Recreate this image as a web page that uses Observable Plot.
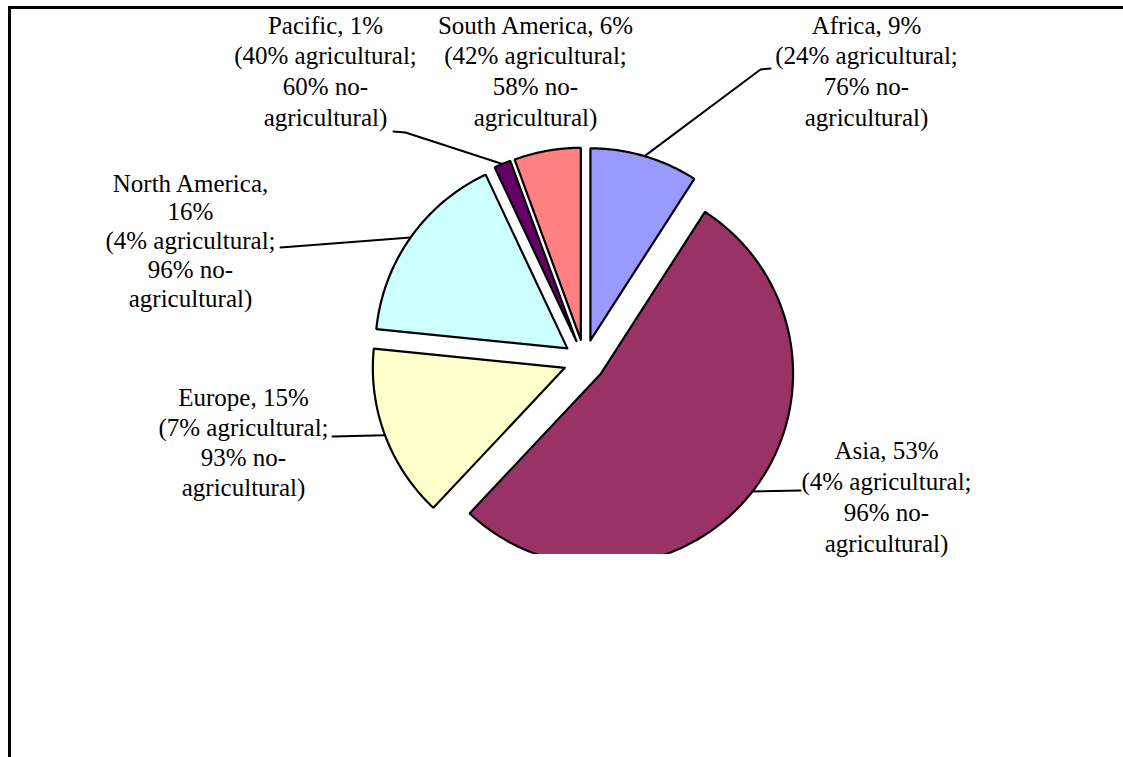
<!DOCTYPE html>
<html>
<head>
<meta charset="utf-8">
<script src="https://cdn.jsdelivr.net/npm/d3@7"></script>
<script src="https://cdn.jsdelivr.net/npm/@observablehq/plot@0.6"></script>
<style>
  html, body { margin: 0; padding: 0; background: #ffffff; }
  #chart svg { display: block; }
  #chart svg text { font-family: "Liberation Serif", "Times New Roman", serif; }
</style>
</head>
<body>
<div id="chart"></div>
<script>
// ---- Data ----
const regions = ["Africa", "Asia", "Europe", "North America", "Pacific", "South America"];
const shares = [9.1, 52.9, 14.6, 16.4, 1.4, 5.6];           // slice sizes
const shareLabels = ["9%", "53%", "15%", "16%", "1%", "6%"];
const agricultural = ["24%", "4%", "7%", "4%", "40%", "42%"];
const nonAgricultural = ["76%", "96%", "93%", "96%", "60%", "58%"];
const colors = ["#9999FF", "#993366", "#FFFFCC", "#CCFFFF", "#660066", "#FF8080"];

// ---- Layout (pixel space of the picture) ----
const W = 1123, H = 757, clipBottom = 554;
const cx = 584, cy = 360, R = 192, explode = 21;
const labelLayout = {
  "Africa":        {x: 866, y: 25,  step: 30.7, breakName: false, lead: [[770, 68], [760, 69]]},
  "Asia":          {x: 886, y: 450, step: 31,   breakName: false, lead: [[800, 490]]},
  "Europe":        {x: 243, y: 397, step: 30,   breakName: false, lead: [[332, 436]]},
  "North America": {x: 190, y: 183, step: 28.8, breakName: true,  lead: [[280, 247]]},
  "Pacific":       {x: 325, y: 25,  step: 30.7, breakName: false, lead: [[393, 131], [405, 132]]},
  "South America": {x: 535, y: 25,  step: 30.7, breakName: false, lead: null}
};

const arcs = d3.pie().sort(null).value(d => d)(shares);

const slices = arcs.map((a, i) => {
  const mid = (a.startAngle + a.endAngle) / 2;
  const ox = cx + explode * Math.sin(mid), oy = cy - explode * Math.cos(mid);
  const pts = [{x: ox, y: oy}];
  const n = Math.max(2, Math.ceil((a.endAngle - a.startAngle) / 0.01));
  for (let k = 0; k <= n; k++) {
    const t = a.startAngle + (a.endAngle - a.startAngle) * k / n;
    pts.push({x: ox + R * Math.sin(t), y: oy - R * Math.cos(t)});
  }
  pts.push({x: ox, y: oy});
  const outer = {x: ox + R * Math.sin(mid), y: oy - R * Math.cos(mid)};
  return {region: regions[i], color: colors[i], pts, outer};
});

// one text element per label line
const labelLines = [];
regions.forEach((r, i) => {
  const L = labelLayout[r];
  const lines = (L.breakName ? [`${r},`, shareLabels[i]] : [`${r}, ${shareLabels[i]}`])
    .concat([`(${agricultural[i]} agricultural;`, `${nonAgricultural[i]} no-`, `agricultural)`]);
  lines.forEach((t, k) => labelLines.push({region: r, x: L.x, y: L.y + k * L.step, text: t}));
});

const leaders = [];
slices.forEach(s => {
  const L = labelLayout[s.region];
  if (!L.lead) return;
  L.lead.forEach(p => leaders.push({region: s.region, x: p[0], y: p[1]}));
  leaders.push({region: s.region, x: s.outer.x, y: s.outer.y});
});

const chart = Plot.plot({
  width: W,
  height: H,
  marginTop: 0, marginLeft: 0, marginRight: 0, marginBottom: H - clipBottom,
  x: {domain: [0, W], range: [0, W], axis: null},
  y: {domain: [0, clipBottom], range: [0, clipBottom], axis: null},
  style: {background: "#ffffff", fontFamily: "'Liberation Serif', serif"},
  marks: [
    ...slices.map(s => Plot.line(s.pts, {
      x: "x", y: "y", fill: s.color, stroke: "#000000", strokeWidth: 2.2,
      strokeLinejoin: "miter", clip: true
    })),
    Plot.line(leaders, {x: "x", y: "y", z: "region", stroke: "#000000", strokeWidth: 2}),
    Plot.text(labelLines, {
      x: "x", y: "y", text: "text", textAnchor: "middle", lineAnchor: "middle",
      fontSize: 25, fontFamily: "'Liberation Serif', serif",
      fill: "#000000"
    }),
    Plot.ruleY([7], {x1: 8, x2: W, stroke: "#000000", strokeWidth: 3}),
    Plot.ruleX([9], {y1: 6, y2: H, stroke: "#000000", strokeWidth: 3})
  ]
});
document.getElementById("chart").appendChild(chart);
</script>
</body>
</html>
